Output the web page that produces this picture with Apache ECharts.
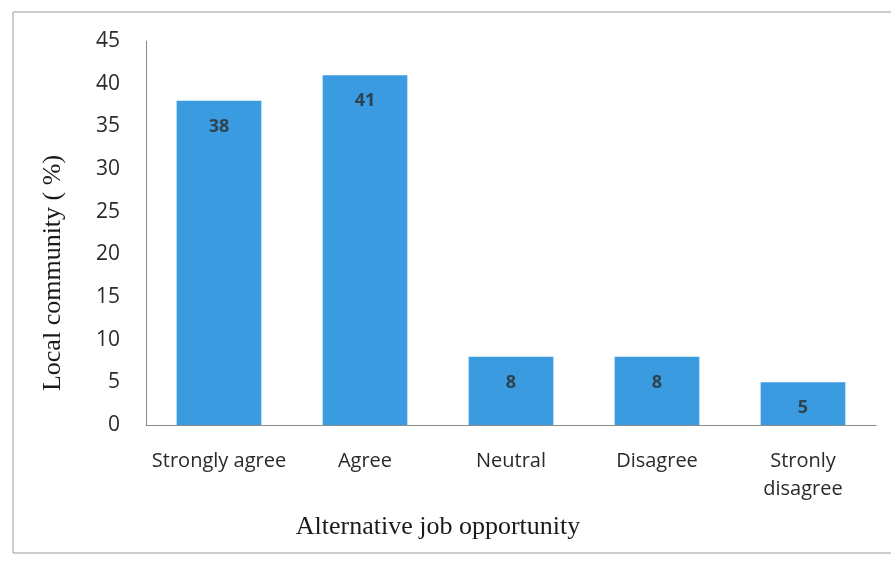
<!DOCTYPE html>
<html>
<head>
<meta charset="utf-8">
<script src="https://cdn.jsdelivr.net/npm/echarts@6/dist/echarts.min.js"></script>
<style>
  html, body { margin: 0; padding: 0; background: #ffffff; }
  #chart { width: 891px; height: 561px; }
</style>
</head>
<body>
<div id="chart"></div>
<script>
// Responses on alternative job opportunity (share of local community, %)
const categories = ['Strongly agree', 'Agree', 'Neutral', 'Disagree', 'Stronly\ndisagree'];
const values = [38, 41, 8, 8, 5];
const yTicks = { min: 0, max: 45, interval: 5 };

const chart = echarts.init(document.getElementById('chart'));
chart.setOption({
  backgroundColor: '#ffffff',
  animation: false,
  graphic: [{
    type: 'rect',
    shape: { x: 13, y: 12, width: 900, height: 541 },
    style: { fill: 'none', stroke: '#9a9a9a', lineWidth: 1 },
    silent: true
  }],
  grid: { left: 146, right: 15, top: 41, bottom: 136 },
  xAxis: {
    type: 'category',
    data: categories,
    axisLine: { lineStyle: { color: '#8a8a8a', width: 1 } },
    axisTick: { show: false },
    axisLabel: {
      interval: 0,
      color: '#2a2a2a', fontFamily: 'Open Sans', fontSize: 20, margin: 22, lineHeight: 28
    },
    name: 'Alternative job opportunity',
    nameLocation: 'middle',
    nameGap: 89,
    nameTextStyle: {
      color: '#1a1a1a', fontFamily: 'Liberation Serif', fontSize: 26,
      padding: [0, 146, 0, 0]
    }
  },
  yAxis: {
    type: 'value',
    min: yTicks.min, max: yTicks.max, interval: yTicks.interval,
    splitLine: { show: false },
    axisLine: { show: true, lineStyle: { color: '#8a8a8a', width: 1 } },
    axisTick: { show: false },
    axisLabel: { color: '#2a2a2a', fontFamily: 'Open Sans', fontSize: 21, margin: 26 },
    name: 'Local community ( %)',
    nameLocation: 'middle',
    nameGap: 80,
    nameTextStyle: {
      color: '#1a1a1a', fontFamily: 'Liberation Serif', fontSize: 26,
      padding: [0, 80, 0, 0]
    }
  },
  series: [{
    type: 'bar',
    data: values,
    barCategoryGap: '42%',
    itemStyle: { color: '#3a9be0' },
    label: {
      show: true,
      position: 'insideTop',
      distance: 17,
      color: '#2e4350',
      fontFamily: 'Open Sans',
      fontWeight: 'bold',
      fontSize: 18
    }
  }]
});
</script>
</body>
</html>
